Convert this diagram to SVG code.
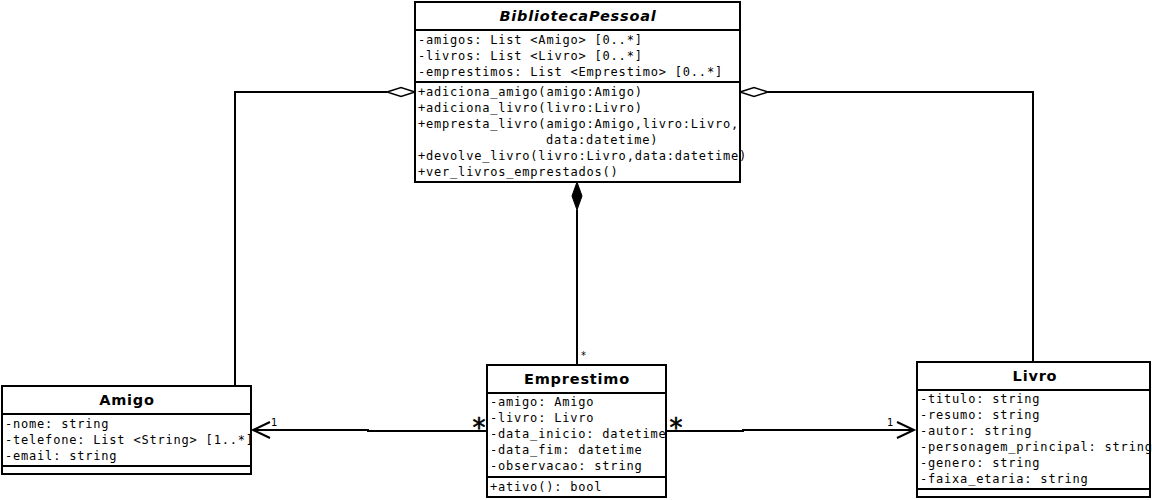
<svg xmlns="http://www.w3.org/2000/svg" width="1152" height="500" viewBox="0 0 1152 500">
<style>
.box{fill:#fff;stroke:#000;stroke-width:2}
.sep{stroke:#000;stroke-width:2}
.title{font-family:"DejaVu Sans",sans-serif;font-weight:bold;font-size:14.5px;letter-spacing:0.8px;text-anchor:middle;fill:#000}
.mono{font-family:"DejaVu Sans Mono",monospace;font-size:12px;letter-spacing:0.8px;fill:#000}
.conn{fill:none;stroke:#000;stroke-width:2}
.lbl{font-family:"DejaVu Sans",sans-serif;font-size:10px;fill:#000}
.star{font-family:"DejaVu Sans",sans-serif;font-size:26px;fill:#000;stroke:#000;stroke-width:0.6;text-anchor:middle}
</style>
<g id="connectors">
  <polyline class="conn" points="235,386 235,92 387,92"/>
  <polygon points="387,92 401,87.5 415,92 401,96.5" fill="#fff" stroke="#000" stroke-width="1.5"/>
  <polyline class="conn" points="1033,362 1033,92 768,92"/>
  <polygon points="740,92 754,87.5 768,92 754,96.5" fill="#fff" stroke="#000" stroke-width="1.5"/>
  <line class="conn" x1="577" y1="365" x2="577" y2="210"/>
  <polygon points="577,182 582,196 577,210 572,196" fill="#000" stroke="#000" stroke-width="1"/>
  <text class="lbl" x="581" y="359" font-size="9">*</text>
  <polyline class="conn" points="487,431 368,431 368,430 253,430"/>
  <polyline class="conn" points="270,422 253,430 270,438"/>
  <text class="lbl" x="271" y="426">1</text>
  <text class="star" x="479" y="437">*</text>
  <polyline class="conn" points="667,431 743,431 743,430 914,430"/>
  <polyline class="conn" points="897,422 914,430 897,438"/>
  <text class="lbl" x="887" y="426">1</text>
  <text class="star" x="676" y="437">*</text>
</g>
<g id="BibliotecaPessoal">
  <rect class="box" x="415" y="2" width="325" height="180"/>
  <line class="sep" x1="415" y1="30" x2="740" y2="30"/>
  <line class="sep" x1="415" y1="82" x2="740" y2="82"/>
  <text class="title" x="578" y="21" font-style="italic">BibliotecaPessoal</text>
  <text class="mono" x="418" y="44">-amigos: List &lt;Amigo&gt; [0..*]</text>
  <text class="mono" x="418" y="60">-livros: List &lt;Livro&gt; [0..*]</text>
  <text class="mono" x="418" y="76">-emprestimos: List &lt;Emprestimo&gt; [0..*]</text>
  <text class="mono" x="418" y="96">+adiciona_amigo(amigo:Amigo)</text>
  <text class="mono" x="418" y="112">+adiciona_livro(livro:Livro)</text>
  <text class="mono" x="418" y="128">+empresta_livro(amigo:Amigo,livro:Livro,</text>
  <text class="mono" x="546" y="144">data:datetime)</text>
  <text class="mono" x="418" y="160">+devolve_livro(livro:Livro,data:datetime)</text>
  <text class="mono" x="418" y="176">+ver_livros_emprestados()</text>
</g>
<g id="Amigo">
  <rect class="box" x="2" y="386" width="249" height="88"/>
  <line class="sep" x1="2" y1="414" x2="251" y2="414"/>
  <line class="sep" x1="2" y1="466" x2="251" y2="466"/>
  <text class="title" x="127" y="405">Amigo</text>
  <text class="mono" x="5" y="428">-nome: string</text>
  <text class="mono" x="5" y="444">-telefone: List &lt;String&gt; [1..*]</text>
  <text class="mono" x="5" y="460">-email: string</text>
</g>
<g id="Emprestimo">
  <rect class="box" x="487" y="365" width="179" height="132"/>
  <line class="sep" x1="487" y1="393" x2="666" y2="393"/>
  <line class="sep" x1="487" y1="477" x2="666" y2="477"/>
  <text class="title" x="577" y="383.5">Emprestimo</text>
  <text class="mono" x="490" y="406">-amigo: Amigo</text>
  <text class="mono" x="490" y="422">-livro: Livro</text>
  <text class="mono" x="490" y="438">-data_inicio: datetime</text>
  <text class="mono" x="490" y="454">-data_fim: datetime</text>
  <text class="mono" x="490" y="470">-observacao: string</text>
  <text class="mono" x="490" y="491">+ativo(): bool</text>
</g>
<g id="Livro">
  <rect class="box" x="917" y="362" width="233" height="135"/>
  <line class="sep" x1="917" y1="390" x2="1150" y2="390"/>
  <line class="sep" x1="917" y1="489" x2="1150" y2="489"/>
  <text class="title" x="1035" y="380.5">Livro</text>
  <text class="mono" x="920" y="403">-titulo: string</text>
  <text class="mono" x="920" y="419">-resumo: string</text>
  <text class="mono" x="920" y="435">-autor: string</text>
  <text class="mono" x="920" y="451">-personagem_principal: string</text>
  <text class="mono" x="920" y="467">-genero: string</text>
  <text class="mono" x="920" y="483">-faixa_etaria: string</text>
</g>
</svg>
